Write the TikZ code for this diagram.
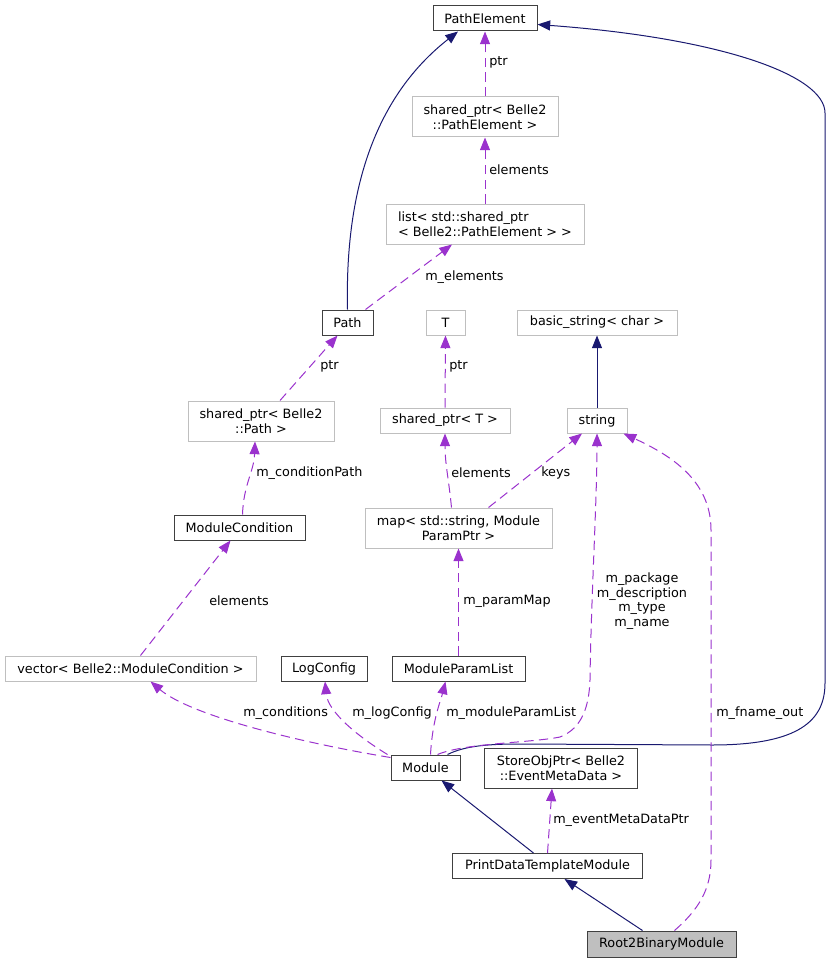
\documentclass[tikz,border=0pt]{standalone}
\usepackage{fontspec}
\setmainfont{DejaVu Sans}
\usetikzlibrary{arrows.meta,calc}
\definecolor{navy}{HTML}{191970}
\definecolor{orch}{HTML}{9A32CD}
\definecolor{gbord}{HTML}{BFBFBF}
\definecolor{dbord}{HTML}{404040}
\begin{document}
\begin{tikzpicture}[x=0.75pt,y=-0.75pt,
  font=\fontsize{9.6}{11.2}\selectfont,
  cls/.style={draw=dbord, line width=0.75pt, fill=white, inner sep=0pt, align=center},
  ext/.style={draw=gbord, line width=0.75pt, fill=white, inner sep=0pt, align=center},
  one/.style={minimum height=18.75pt},
  two/.style={minimum height=30pt},
  inh/.style={navy, line width=0.75pt, -{Triangle[length=9.5pt,width=7.5pt]}},
  use/.style={orch, line width=0.75pt, dash pattern=on 7pt off 4pt, -{Triangle[length=9.5pt,width=7.5pt]}},
  lbl/.style={anchor=west, inner sep=0pt, text=black}]
\useasboundingbox (0,0) rectangle (831,963);

% nodes
\node[cls, one, minimum width=78pt] (PathElement) at (485,18.5) {PathElement};
\node[ext, two, minimum width=109.5pt] (spPE) at (485,117) {shared\_ptr< Belle2\\::PathElement >};
\node[ext, two, minimum width=148.5pt, align=left] (list) at (485,224) {list< std::shared\_ptr\\< Belle2::PathElement > >};
\node[cls, one, minimum width=38.25pt] (Path) at (347.5,322.5) {Path};
\node[ext, one, minimum width=29.25pt] (T) at (445.5,322.5) {T};
\node[ext, one, minimum width=120pt] (basic) at (597,322.5) {basic\_string< char >};
\node[ext, two, minimum width=109.5pt] (spPath) at (261,421) {shared\_ptr< Belle2\\::Path >};
\node[ext, one, minimum width=97.5pt] (spT) at (445,420.5) {shared\_ptr< T >};
\node[ext, one, minimum width=45pt] (string) at (597,420.5) {string};
\node[cls, one, minimum width=98.25pt] (ModCond) at (239.5,527.5) {ModuleCondition};
\node[ext, two, minimum width=140.25pt] (map) at (458.5,528) {map< std::string, Module\\ParamPtr >};
\node[ext, one, minimum width=188.25pt] (vector) at (130.5,668.5) {vector< Belle2::ModuleCondition >};
\node[cls, one, minimum width=64.5pt] (LogConfig) at (324,668.5) {LogConfig};
\node[cls, one, minimum width=99.75pt] (MPL) at (458.5,668.5) {ModuleParamList};
\node[cls, one, minimum width=51.75pt] (Module) at (425.5,767.5) {Module};
\node[cls, two, minimum width=114.75pt] (StoreObj) at (561,768) {StoreObjPtr< Belle2\\::EventMetaData >};
\node[cls, one, minimum width=142.5pt] (Print) at (547.5,866) {PrintDataTemplateModule};
\node[cls, minimum height=19.5pt, minimum width=111.75pt, fill=gbord] (Root2) at (661.5,944) {Root2BinaryModule};

% inheritance edges
\draw[inh] (Path.north) .. controls +(-2.5,-110) and +(-88,69) .. ($(PathElement.south)+(-27,0)$);
\draw[inh] ($(Module.north)+(22,0)$) .. controls +(18,-9) and +(-30,0) .. (520,744) -- (712,745)
  .. controls (800,745) and (825,720) .. (825,683) -- (825,113)
  .. controls (825,75) and (720,38) .. ($(PathElement.east)+(0,6)$);
\draw[inh] (string.north) -- (basic.south);
\draw[inh] ($(Print.north)+(-14,0)$) -- ($(Module.south)+(16,0)$);
\draw[inh] ($(Root2.north)+(-19,0)$) -- ($(Print.south)+(17,0)$);

% usage edges
\draw[use] (spPE.north) -- (PathElement.south);
\draw[use] (list.north) -- (spPE.south);
\draw[use] ($(Path.north)+(18,0)$) -- ($(list.south)+(-33,0)$);
\draw[use] ($(spPath.north)+(19,0)$) -- ($(Path.south)+(-10,0)$);
\draw[use] (spT.north) -- (T.south);
\draw[use] ($(ModCond.north)+(3,0)$) .. controls +(1,-30) and +(-1,30) .. ($(spPath.south)+(-6,0)$);
\draw[use] ($(vector.north)+(10,0)$) -- ($(ModCond.south)+(-9,0)$);
\draw[use] ($(map.north)+(-7,0)$) .. controls +(-3,-30) and +(0,30) .. (spT.south);
\draw[use] ($(map.north)+(30,0)$) -- ($(string.south)+(-15,0)$);
\draw[use] (MPL.north) -- (map.south);
\draw[use] ($(Module.west)+(0,-10)$) .. controls +(-91,-15) and +(40,34) .. ($(vector.south)+(20,0)$);
\draw[use] ($(Module.north west)+(-3,0)$) .. controls +(-28,-17) and +(3,31) .. ($(LogConfig.south)+(1,0)$);
\draw[use] ($(Module.north)+(5,0)$) .. controls +(2,-35) and +(-5,20) .. ($(MPL.south)+(-13,0)$);
\draw[use] ($(Module.north)+(12,0)$) .. controls (465,743) and (530,743) .. (560,737)
  .. controls (583,728) and (589,705) .. (590,680)
  .. controls (591,600) and (597,500) .. (string.south);
\draw[use] ($(Root2.north)+(13,0)$) .. controls (698,910) and (711,890) .. (711,860) -- (711,530)
  .. controls (711,480) and (670,455) .. ($(string.south east)+(-4,0)$);
\draw[use] (Print.north) -- ($(StoreObj.south)+(-9,0)$);

% labels
\node[lbl] (l1) at (489,62) {ptr};
\node[lbl] (l2) at (489,170) {elements};
\node[lbl] (l3) at (425,277) {m\_elements};
\node[lbl] (l4) at (320,366) {ptr};
\node[lbl] (l5) at (449,366) {ptr};
\node[lbl] (l6) at (256,473) {m\_conditionPath};
\node[lbl] (l7) at (451,473) {elements};
\node[lbl] (l8) at (541,473) {keys};
\node[lbl] (l9) at (209,601) {elements};
\node[lbl] (l10) at (463,601) {m\_paramMap};
\node[inner sep=0pt, align=center, font=\fontsize{9.6}{10.9}\selectfont] (l11) at (642,601) {m\_package\\m\_description\\m\_type\\m\_name};
\node[lbl] (l12) at (243,713) {m\_conditions};
\node[lbl] (l13) at (352,713) {m\_logConfig};
\node[lbl] (l14) at (446,713) {m\_moduleParamList};
\node[lbl] (l15) at (716,713) {m\_fname\_out};
\node[lbl] (l16) at (553,820) {m\_eventMetaDataPtr};
\end{tikzpicture}
\end{document}
